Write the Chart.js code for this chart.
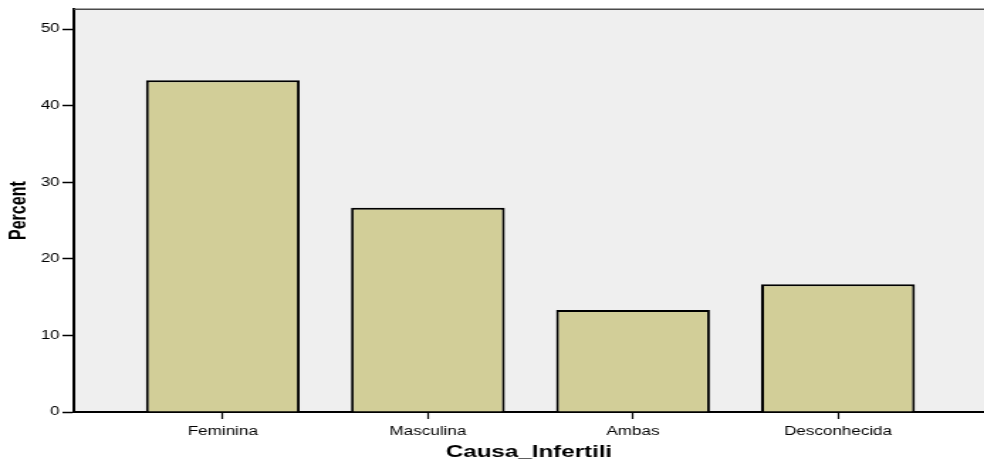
<!DOCTYPE html>
<html>
<head>
<meta charset="utf-8">
<script src="https://cdn.jsdelivr.net/npm/chart.js@4/dist/chart.umd.min.js"></script>
<style>
  html, body { margin: 0; padding: 0; background: #fff; overflow: hidden; }
  /* the original chart is stretched sideways, so draw it narrower and widen it */
  #wrap { width: 693px; height: 463px; transform: scaleX(1.42); transform-origin: 0 0; }
</style>
</head>
<body>
<div id="wrap"><canvas id="chart"></canvas></div>
<script>
var categories = ['Feminina', 'Masculina', 'Ambas', 'Desconhecida'];
var percents = [43.33, 26.67, 13.33, 16.67];
var yTicks = [0, 10, 20, 30, 40, 50];

var font = "'Liberation Sans', Arial, sans-serif";

// plot background and the gray top edge
var frame = {
    id: 'frame',
    beforeDraw: function (chart) {
        var a = chart.chartArea, c = chart.ctx;
        c.save();
        c.fillStyle = '#efefef';
        c.fillRect(a.left, a.top, a.right - a.left, a.bottom - a.top);
        c.restore();
    },
    afterDraw: function (chart) {
        var a = chart.chartArea, c = chart.ctx;
        c.save();
        c.strokeStyle = '#4a4a4a';
        c.lineWidth = 1.5;
        c.beginPath();
        c.moveTo(a.left, a.top);
        c.lineTo(a.right, a.top);
        c.stroke();
        c.restore();
    }
};

var ctx = document.getElementById('chart');
var chart = new Chart(ctx, {
    type: 'bar',
    data: {
        datasets: [{
            label: 'Percent',
            data: categories.map(function (c, i) { return { x: i, y: percents[i] }; }),
            backgroundColor: '#d2ce98',
            borderColor: '#000',
            borderWidth: 2,
            barPercentage: 0.75,
            categoryPercentage: 1
        }]
    },
    options: {
        responsive: true,
        maintainAspectRatio: false,
        animation: false,
        layout: { padding: { top: 8, right: 0, left: 0, bottom: 0 } },
        plugins: {
            legend: { display: false },
            tooltip: { enabled: false }
        },
        scales: {
            x: {
                type: 'linear',
                offset: false,
                min: -0.7265,
                max: 3.712,
                afterBuildTicks: function (s) {
                    s.ticks = categories.map(function (c, i) { return { value: i }; });
                },
                afterFit: function (s) { s.height = 51; },
                grid: {
                    offset: false,
                    drawOnChartArea: false,
                    tickLength: 7,
                    tickWidth: 1.2,
                    tickColor: '#000'
                },
                border: { color: '#000', width: 2 },
                ticks: {
                    padding: 5,
                    maxRotation: 0,
                    color: '#000',
                    font: { family: font, size: 12 },
                    callback: function (v) { return categories[v]; }
                },
                title: {
                    display: true,
                    text: 'Causa_Infertili',
                    color: '#000',
                    font: { family: font, size: 17, weight: 'bold' },
                    padding: { top: 0, bottom: 0 }
                }
            },
            y: {
                min: 0,
                max: 52.6,
                afterBuildTicks: function (s) {
                    s.ticks = yTicks.map(function (v) { return { value: v }; });
                },
                afterFit: function (s) { s.width = 52; },
                grid: {
                    drawOnChartArea: false,
                    tickLength: 8,
                    tickWidth: 1.5,
                    tickColor: '#000'
                },
                border: { color: '#000', width: 2 },
                ticks: {
                    padding: 2,
                    color: '#000',
                    font: { family: font, size: 12 }
                },
                title: {
                    display: true,
                    text: 'Percent',
                    color: '#000',
                    font: { family: font, size: 16, weight: 'bold' },
                    padding: { top: 4, bottom: 0 }
                }
            }
        }
    },
    plugins: [frame]
});
</script>
</body>
</html>
